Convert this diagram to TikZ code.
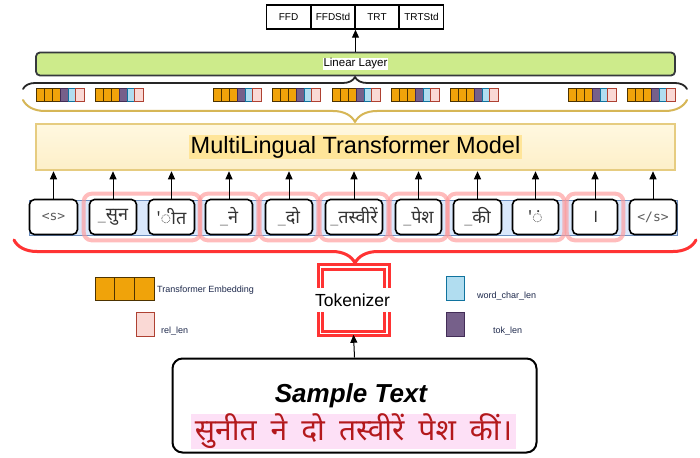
\documentclass[tikz,border=0pt]{standalone}
\usepackage{fontspec}
\setmainfont{Liberation Sans}
\newfontfamily\deva[Script=Devanagari]{Noto Sans}
\newfontfamily\monof{DejaVu Sans Mono}
\usetikzlibrary{decorations.pathreplacing,arrows.meta,fit,backgrounds}
\pgfdeclarelayer{bottomlayer}
\pgfdeclarelayer{background}
\pgfsetlayers{bottomlayer,background,main}
\definecolor{embfill}{HTML}{F0A30A}
\definecolor{embdraw}{HTML}{4D3300}
\definecolor{tokfill}{HTML}{76608A}
\definecolor{tokdraw}{HTML}{432D57}
\definecolor{wclfill}{HTML}{B1DDF0}
\definecolor{wcldraw}{HTML}{10739E}
\definecolor{relfill}{HTML}{FAD9D5}
\definecolor{reldraw}{HTML}{AE4132}
\definecolor{linfill}{HTML}{CDEB8B}
\definecolor{lindraw}{HTML}{36393D}
\definecolor{modtop}{HTML}{FFF8E0}
\definecolor{modbot}{HTML}{FDEFC8}
\definecolor{moddraw}{HTML}{E6CC80}
\definecolor{modtext}{HTML}{FFE599}
\definecolor{bracegold}{HTML}{D6B656}
\definecolor{bandfill}{HTML}{DAE8FC}
\definecolor{banddraw}{HTML}{6C8EBF}
\definecolor{pinkhl}{HTML}{FF9999}
\definecolor{redline}{HTML}{FF3333}
\definecolor{darktxt}{HTML}{333333}
\definecolor{usc}{HTML}{A0A0A0}
\definecolor{legtxt}{HTML}{1F2A4D}
\definecolor{hinditxt}{HTML}{B3191C}
\definecolor{hindibg}{HTML}{FDE0F6}
\tikzset{
  arr/.style={-{Triangle[length=8pt,width=7pt]}, line width=1pt, black},
  outcell/.style={draw=black, line width=1.5pt, fill=white, minimum width=44pt, minimum height=24pt, inner sep=0pt, font=\fontsize{10}{10}\selectfont},
  embcell/.style={fill=embfill, draw=embdraw, line width=0.8pt},
  tokcell/.style={fill=tokfill, draw=tokdraw, line width=0.8pt},
  wclcell/.style={fill=wclfill, draw=wcldraw, line width=0.8pt},
  relcell/.style={fill=relfill, draw=reldraw, line width=0.8pt},
  tokbox/.style={draw=black, line width=1.6pt, fill=white, rounded corners=5pt, minimum height=35pt, inner sep=0pt, text=darktxt, font=\deva\fontsize{18}{18}\selectfont},
  pinkbox/.style={draw=pinkhl, draw opacity=0.65, line width=4pt, rounded corners=8pt, inner sep=5pt},
  bracestyle/.style={decorate, line join=round, line cap=round},
  legtext/.style={anchor=west, inner sep=0pt, text=legtxt, font=\fontsize{9}{9}\selectfont},
}
\begin{document}
\begin{tikzpicture}[x=1pt,y=-1pt]
\begin{pgfonlayer}{bottomlayer}
\fill[white] (0,0) rectangle (700,457);
\end{pgfonlayer}
\useasboundingbox (0,0) rectangle (700,457);

% output cells
\node[outcell] (ffd) at (288.5,17) {FFD};
\node[outcell] (ffdstd) at (333,17) {FFDStd};
\node[outcell] (trt) at (377,17) {TRT};
\node[outcell] (trtstd) at (421.5,17) {TRTStd};

% linear layer
\node[draw=lindraw, fill=linfill, line width=1.8pt, rounded corners=4pt, minimum width=639pt, minimum height=23pt] (lin) at (355.5,64) {};
\node[fill=white, inner sep=1pt, font=\fontsize{11.5}{11.5}\selectfont] (linlab) at (lin.center) {Linear Layer};
\draw[arr] (lin.north) -- (lin.north |- ffdstd.south);

% black brace
\coordinate (bbl) at (23,89);
\coordinate (bbr) at (687,89);
\draw[bracestyle, line width=1.8pt, black!85, decoration={brace, amplitude=12pt}] (bbl) -- (bbr);

% embedding vectors
\foreach \gx in {36,95.5,213,272,332,391,450,568,627} {
  \foreach \i in {0,1,2} \draw[embcell] (\gx+8*\i,88) rectangle ++(8,13);
  \draw[tokcell] (\gx+24,88) rectangle ++(8.3,13);
  \draw[wclcell] (\gx+32.3,88) rectangle ++(7,13);
  \draw[relcell] (\gx+39.3,88) rectangle ++(8.7,13);
}

% gold brace
\coordinate (gbr) at (687,100);
\coordinate (gbl) at (23,100);
\draw[bracestyle, line width=2pt, bracegold, decoration={brace, amplitude=22pt}] (gbr) -- (gbl);

% model
\node[draw=moddraw, line width=2.5pt, top color=modtop, bottom color=modbot, minimum width=639pt, minimum height=46pt] (model) at (355.5,147) {};
\node[fill=modtext, inner sep=1.5pt, font=\fontsize{23.5}{23.5}\selectfont] (modlab) at (model.center) {MultiLingual Transformer Model};

% tokens
\node[tokbox, minimum width=48pt] (t1) at (53.5,217) {\monof\fontsize{13}{13}\selectfont\color{darktxt!80}<s>};
\node[tokbox, minimum width=47pt] (t2) at (113,217) {{\color{usc}\_}सुन};
\node[tokbox, minimum width=46pt] (t3) at (171.5,217) {'ीत};
\node[tokbox, minimum width=47pt] (t4) at (229,217) {{\color{usc}\_}ने};
\node[tokbox, minimum width=47pt] (t5) at (289,217) {{\color{usc}\_}दो};
\node[tokbox, minimum width=57pt] (t6) at (354,217) {{\color{usc}\_}तस्वीरें};
\node[tokbox, minimum width=46pt] (t7) at (418.5,217) {{\color{usc}\_}पेश};
\node[tokbox, minimum width=48pt] (t8) at (477.5,217) {{\color{usc}\_}की};
\node[tokbox, minimum width=46pt] (t9) at (535.5,217) {'ं};
\node[tokbox, minimum width=45pt] (t10) at (595,217) {।};
\node[tokbox, minimum width=47pt] (t11) at (653,217) {\monof\fontsize{13}{13}\selectfont\color{darktxt!80}</s>};

\begin{pgfonlayer}{background}
  \draw[fill=bandfill, draw=banddraw, line width=0.8pt] (29,200) rectangle (677,235);
  \node[pinkbox, fit=(t2)(t3)] (h1) {};
  \node[pinkbox, fit=(t4)] (h2) {};
  \node[pinkbox, fit=(t5)] (h3) {};
  \node[pinkbox, fit=(t6)] (h4) {};
  \node[pinkbox, fit=(t7)] (h5) {};
  \node[pinkbox, fit=(t8)(t9)] (h6) {};
  \node[pinkbox, fit=(t10)] (h7) {};
\end{pgfonlayer}

\foreach \t in {t1,t2,t3,t4,t5,t6,t7,t8,t9,t10,t11}
  \draw[arr] (\t.north) -- (\t.north |- model.south);

% red brace
\coordinate (rbr) at (696,240);
\coordinate (rbl) at (14,240);
\draw[bracestyle, line width=3pt, redline, decoration={brace, amplitude=23pt}] (rbr) -- (rbl);

% tokenizer
\node[draw=redline, double=white, double distance=1.5pt, line width=3pt, minimum width=66.5pt, minimum height=66.5pt, inner sep=0pt] (tokz) at (353.5,300) {};
\node[fill=white, inner sep=0pt, minimum width=78pt, minimum height=24pt, font=\fontsize{17.5}{17.5}\selectfont] (tokl) at (352.5,300) {Tokenizer};

% legend
\foreach \i in {0,1,2} \draw[embcell] (95+19.7*\i,277) rectangle ++(19.7,23);
\node[legtext] (lg1) at (157,290) {Transformer Embedding};
\draw[relcell] (136,312) rectangle (154,336);
\node[legtext] (lg2) at (161,331) {rel\_len};
\draw[wclcell] (446,276) rectangle (464,300);
\node[legtext] (lg3) at (477,296) {word\_char\_len};
\draw[tokcell] (446,312) rectangle (464,336);
\node[legtext] (lg4) at (493,331) {tok\_len};

% sample text
\node[draw=black, line width=2pt, rounded corners=10pt, fill=white, minimum width=364pt, minimum height=94pt] (samp) at (354.5,405.5) {};
\node[inner sep=0pt, font=\bfseries\itshape\fontsize{26}{26}\selectfont] (samplab) at (351,396) {Sample Text};
\node[fill=hindibg, inner sep=0pt, minimum width=325pt, minimum height=31pt, text=hinditxt, font=\deva\fontsize{30}{30}\selectfont] (hindi) at (353.5,431.5) {सुनीत\hspace{14pt}ने\hspace{14pt}दो\hspace{14pt}तस्वीरें\hspace{14pt}पेश\hspace{14pt}कीं।};
\draw[arr] (samp.north) -- (tokz.south);
\end{tikzpicture}
\end{document}
